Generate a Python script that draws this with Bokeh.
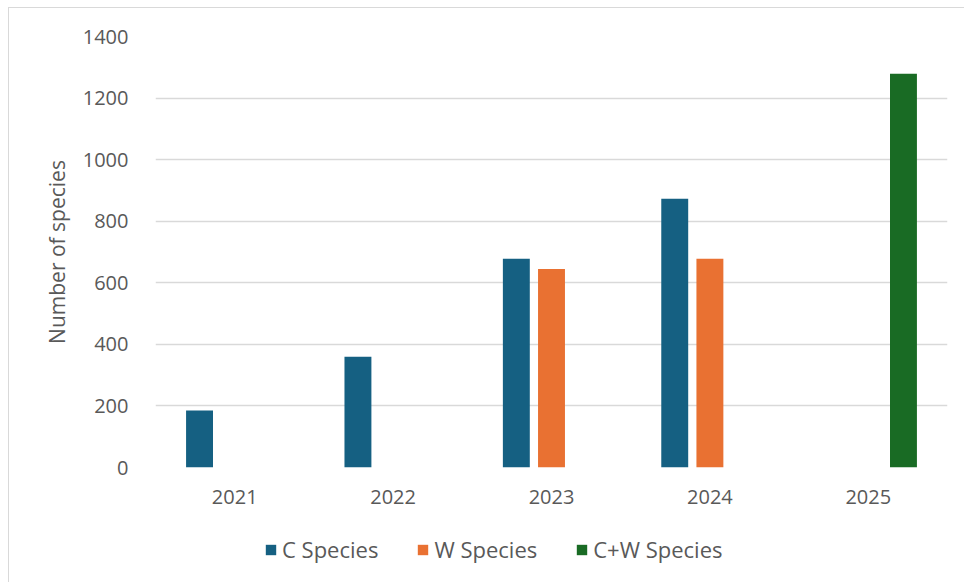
from bokeh.plotting import figure
from bokeh.layouts import column
from bokeh.models import ColumnDataSource, FactorRange, Legend, LegendItem, SingleIntervalTicker
from bokeh.transform import dodge
from bokeh.embed import file_html
from bokeh.resources import INLINE

years = ["2021", "2022", "2023", "2024", "2025"]
c_species = [185, 360, 678, 873, 0]
w_species = [0, 0, 645, 678, 0]
cw_species = [0, 0, 0, 0, 1279]
series_names = ["C Species", "W Species", "C+W Species"]
colors = ["#156082", "#E97132", "#196B24"]

FONT = "Open Sans"
TXT = "#595959"

p = figure(
    x_range=FactorRange(*years),
    y_range=(0, 1400),
    width=955, height=514,
    output_backend="svg",
    toolbar_location=None,
    min_border_left=146, min_border_right=17,
    min_border_top=28, min_border_bottom=55,
)
p.outline_line_color = None
p.background_fill_color = "white"
p.border_fill_color = "white"

offsets = [-0.222, 0.0, 0.222]
for name, vals, col, off in zip(series_names, [c_species, w_species, cw_species], colors, offsets):
    xs = [y for y, v in zip(years, vals) if v > 0]
    vs = [v for v in vals if v > 0]
    src = ColumnDataSource(dict(x=xs, top=vs))
    p.vbar(x=dodge("x", off, range=p.x_range), top="top", bottom=0, width=0.17,
           source=src, fill_color=col, line_color=None)

p.xgrid.grid_line_color = None
p.ygrid.grid_line_color = "#d9d9d9"
p.ygrid.grid_line_width = 1.5
p.yaxis.ticker = SingleIntervalTicker(interval=200)

for ax in (p.xaxis[0], p.yaxis[0]):
    ax.axis_line_color = None
    ax.major_tick_line_color = None
    ax.minor_tick_line_color = None
    ax.major_tick_out = 0
    ax.major_tick_in = 0
    ax.major_label_text_font = FONT
    ax.major_label_text_font_size = "20px"
    ax.major_label_text_color = TXT

p.yaxis.major_label_standoff = 23
p.xaxis.major_label_standoff = 22
p.yaxis.axis_label = "Number of species"
p.yaxis.axis_label_text_font = FONT
p.yaxis.axis_label_text_font_size = "21px"
p.yaxis.axis_label_text_font_style = "normal"
p.yaxis.axis_label_text_color = TXT
p.yaxis.axis_label_standoff = 9

# legend strip (its swatches come from zero-height proxy bars)
lg = figure(width=955, height=60, x_range=(0, 1), y_range=(0, 1),
            output_backend="svg", toolbar_location=None,
            min_border_left=0, min_border_right=0, min_border_top=0, min_border_bottom=0)
lg.axis.visible = False
lg.grid.grid_line_color = None
lg.outline_line_color = None
lg.border_fill_color = "white"
lg.background_fill_color = "white"
dummies = []
for col in colors:
    dummies.append(lg.vbar(x=[0.5], top=[0.5], bottom=[0.5], width=0.1,
                           fill_color=col, line_color=None))

legend = Legend(
    items=[LegendItem(label=n, renderers=[r]) for n, r in zip(series_names, dummies)],
    orientation="horizontal",
    location=(109, 18),
    label_text_font=FONT,
    label_text_font_size="22px",
    label_text_color=TXT,
    glyph_width=13, glyph_height=13,
    label_standoff=5,
    spacing=38,
    padding=0, margin=0,
    border_line_color=None,
    background_fill_alpha=0,
)
lg.add_layout(legend, "center")

layout = column(p, lg, spacing=0, styles={
    "margin-left": "8px",
    "margin-top": "7px",
    "border-left": "1px solid #d9d9d9",
    "border-top": "1px solid #d9d9d9",
})

open("out.html", "w").write(file_html(layout, INLINE))
